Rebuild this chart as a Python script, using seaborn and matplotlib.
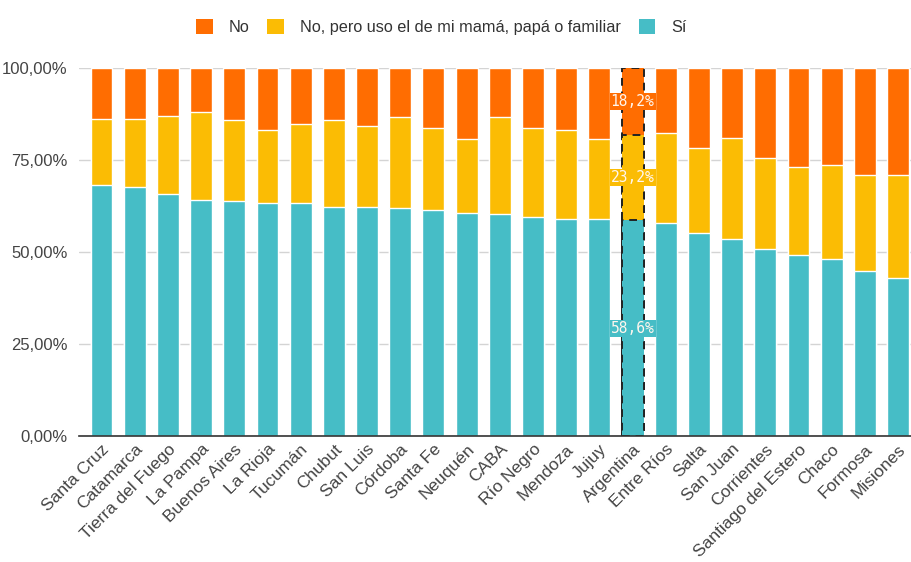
import matplotlib
matplotlib.use("Agg")
import matplotlib.pyplot as plt
import seaborn as sns
import pandas as pd
from matplotlib.patches import Patch
from matplotlib.ticker import FuncFormatter

sns.set_theme(style="white")
plt.rcParams['font.family'] = ['Liberation Sans', 'DejaVu Sans']

cats = ["Santa Cruz", "Catamarca", "Tierra del Fuego", "La Pampa", "Buenos Aires",
        "La Rioja", "Tucumán", "Chubut", "San Luis", "Córdoba", "Santa Fe", "Neuquén",
        "CABA", "Río Negro", "Mendoza", "Jujuy", "Argentina", "Entre Ríos", "Salta",
        "San Juan", "Corrientes", "Santiago del Estero", "Chaco", "Formosa", "Misiones"]
si_vals = [68.2, 67.7, 65.8, 64.2, 63.8, 63.4, 63.4, 62.1, 62.1, 61.9, 61.4, 60.6,
           60.3, 59.4, 59.0, 59.0, 58.6, 57.9, 55.2, 53.5, 50.8, 49.2, 48.1, 44.9, 43.0]
fam_vals = [17.9, 18.4, 21.2, 23.8, 22.0, 19.8, 21.3, 23.7, 22.2, 24.7, 22.4, 20.1,
            26.3, 24.4, 24.2, 21.7, 23.2, 24.4, 23.1, 27.6, 24.7, 24.0, 25.5, 25.9, 27.8]
no_vals = [13.9, 13.9, 13.0, 12.0, 14.2, 16.8, 15.3, 14.2, 15.7, 13.4, 16.2, 19.3,
           13.4, 16.2, 16.8, 19.3, 18.2, 17.7, 21.7, 18.9, 24.5, 26.8, 26.4, 29.2, 29.2]
series_names = ["No", "No, pero uso el de mi mamá, papá o familiar", "Sí"]
highlight = "Argentina"

C_NO, C_FAM, C_SI = "#FF6D01", "#FBBC04", "#46BDC6"

df = pd.DataFrame({"cat": cats, "si": si_vals, "fam": fam_vals, "no": no_vals})
df["c2"] = df["si"] + df["fam"]
df["c3"] = df["c2"] + df["no"]

fig = plt.figure(figsize=(9.12, 5.62), dpi=100)
ax = fig.add_axes([0.0866, 0.2242, 0.9134, 0.6548])

n = len(cats)
for col, color in [("c3", C_NO), ("c2", C_FAM), ("si", C_SI)]:
    sns.barplot(data=df, x="cat", y=col, color=color, width=0.66, ax=ax,
                saturation=1, order=cats, errorbar=None, zorder=2)

idx = cats.index(highlight)
for k in range(3):
    p = ax.patches[k * n + idx]
    p.set_edgecolor("#222222")
    p.set_linestyle((0, (4, 3)))
    p.set_linewidth(1.4)

# labels on highlighted bar
r = df.iloc[idx]
for val, mid, color in [(r["no"], r["c2"] + r["no"] / 2, C_NO),
                        (r["fam"], r["si"] + r["fam"] / 2, C_FAM),
                        (r["si"], r["si"] / 2, C_SI)]:
    ax.text(idx, mid, f"{val:.1f}%".replace(".", ","), ha="center", va="center",
            color="#FFF6EE", fontsize=10.5, family="DejaVu Sans Mono", zorder=5,
            bbox=dict(boxstyle="square,pad=0.08", fc=color, ec="none"))

ax.set_ylim(0, 100)
ax.set_xlim(-0.68, n - 1 + 0.42)
ax.set_yticks([0, 25, 50, 75, 100])
ax.yaxis.set_major_formatter(FuncFormatter(lambda v, _: f"{v:.2f}".replace(".", ",") + "%"))
ax.yaxis.grid(True, color="#d4d4d4", lw=1)
ax.set_axisbelow(True)
ax.set_xlabel("")
ax.set_ylabel("")
for s in ["top", "right", "left"]:
    ax.spines[s].set_visible(False)
ax.spines["bottom"].set_color("#333333")
ax.spines["bottom"].set_linewidth(1.2)
ax.tick_params(axis="both", length=0, labelcolor="#444444")
ax.tick_params(axis="y", pad=8, labelsize=12)
ax.tick_params(axis="x", pad=4, labelsize=12.5)
plt.setp(ax.get_xticklabels(), rotation=45, ha="right", rotation_mode="anchor")

handles = [Patch(facecolor=c, edgecolor="none") for c in (C_NO, C_FAM, C_SI)]
fig.legend(handles, series_names, loc="center", bbox_to_anchor=(0.484, 0.952), ncol=3,
           frameon=False, fontsize=11.7, handlelength=1.0, handleheight=1.0,
           handletextpad=1.0, columnspacing=1.1, labelcolor="#333333")

fig.savefig("out.png", dpi=100)
